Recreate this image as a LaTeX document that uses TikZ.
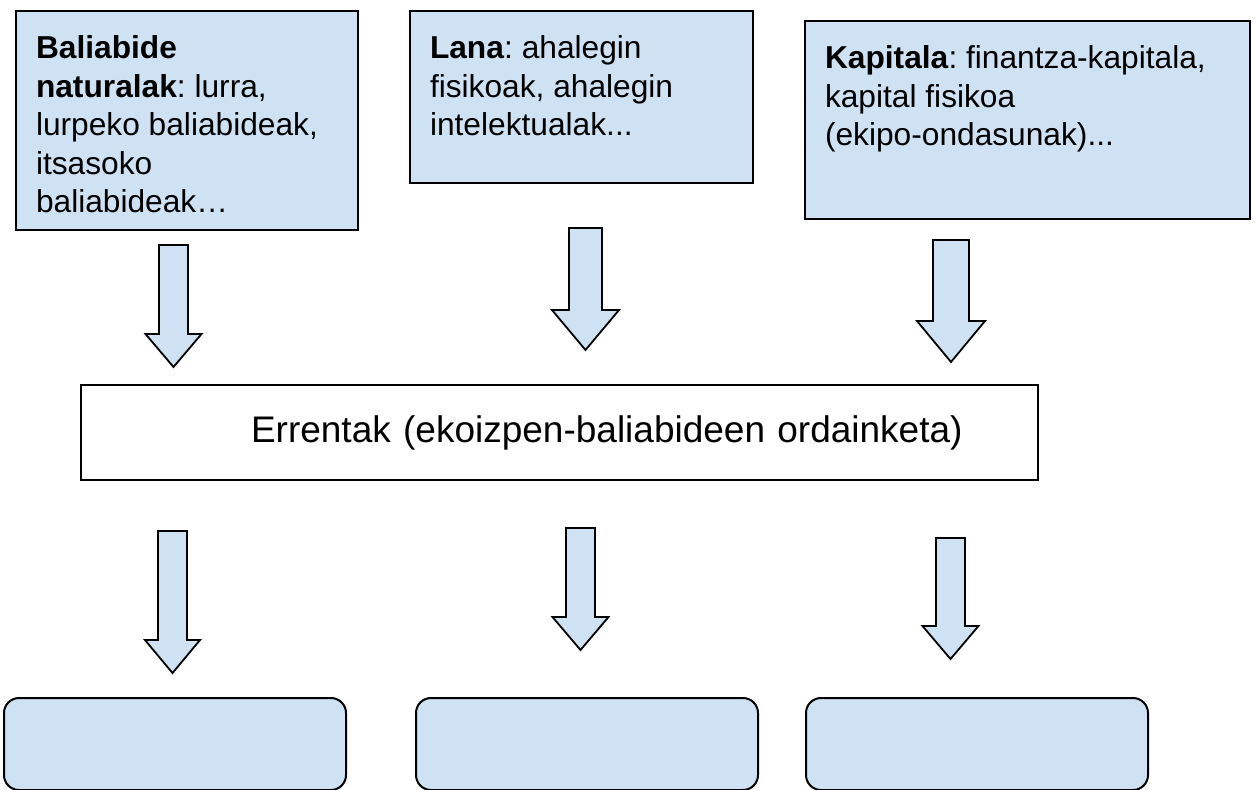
\documentclass[tikz,border=0pt]{standalone}
\usepackage{fontspec}
\setmainfont{Liberation Sans}
\usetikzlibrary{positioning,calc}
\frenchspacing
\definecolor{boxblue}{HTML}{CFE2F3}
\newcommand{\fbnode}[5]{\node [factorbox] (#1) at (#2) {\parbox[c][\dimexpr#4pt-50pt\relax][t]{\dimexpr#3pt-40pt\relax}{\raggedright #5}}}
\newcommand{\blkarrow}[6]{\coordinate (#1) at (#2);
  \draw[downarrow] (#1) ++(-#3,0) -- ++(0,#4) -- ++({#3-#5},0) -- ++(#5,#6) -- ++(#5,-#6) -- ++({#3-#5},0) -- ++(0,-#4) -- cycle}
\tikzset{
  factorbox/.style={draw=black, line width=2pt, fill=boxblue, anchor=north west,
    inner xsep=20pt, inner ysep=25pt, font=\fontsize{31.7}{38.5}\selectfont},
  rentbox/.style={draw=black, line width=2pt, fill=white, anchor=north west,
    minimum width=957pt, minimum height=95pt, inner sep=0pt, text width=957pt,
    align=left, font=\fontsize{37}{44}\selectfont},
  outbox/.style={draw=black, line width=2pt, fill=boxblue, rounded corners=15pt,
    anchor=north west, minimum width=342pt, minimum height=92pt, inner sep=0pt},
  downarrow/.style={draw=black, line width=1.8pt, fill=boxblue, line join=miter}
}
\begin{document}
\begin{tikzpicture}[x=1pt,y=-1pt]
\useasboundingbox (0,0) rectangle (1256,790);

% production factors
\fbnode{NATUR}{15,10}{342}{219}{\textbf{Baliabide}\\\textbf{naturalak}: lurra,\\lurpeko baliabideak,\\itsasoko\\baliabideak…};
\fbnode{LANA}{409,10}{343}{172}{\textbf{Lana}: ahalegin\\fisikoak, ahalegin\\intelektualak...};
\fbnode{KAPITAL}{804,20}{445}{198}{\textbf{Kapitala}: finantza-kapitala,\\kapital fisikoa\\(ekipo-ondasunak)...};

\blkarrow{A1}{173.5,245}{14.5}{89}{28}{33};
\blkarrow{A2}{585.5,228}{16.5}{82}{33.5}{40};
\blkarrow{A3}{951,240}{18}{81}{34}{41};

\node [rentbox] (RENT) at (80,384) {\hspace*{170pt}Errentak (ekoizpen-baliabideen ordainketa)};

\blkarrow{B1}{172.5,531}{14.5}{109}{27.5}{33};
\blkarrow{B2}{580.5,528}{14.5}{89}{28}{33};
\blkarrow{B3}{950.5,538}{14.5}{88}{28}{33};

% empty result boxes
\node [outbox] (OUT1) at (3,697) {};
\node [outbox] (OUT2) at (415,697) {};
\node [outbox] (OUT3) at (805,697) {};
\end{tikzpicture}
\end{document}
